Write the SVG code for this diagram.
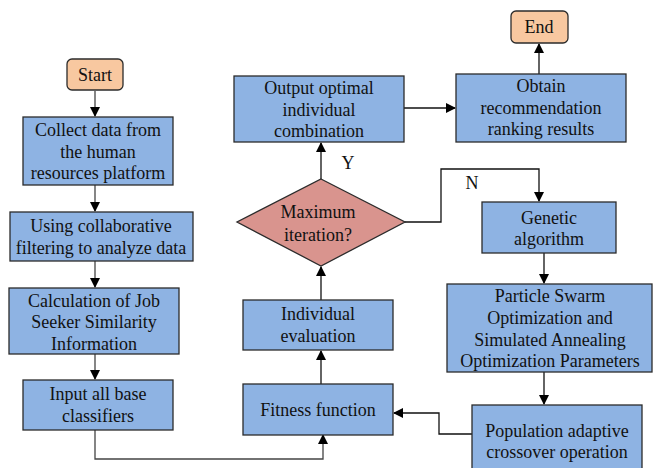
<svg xmlns="http://www.w3.org/2000/svg" width="654" height="468" viewBox="0 0 654 468">
  <defs>
    <marker id="arrow" markerWidth="10" markerHeight="10" refX="9" refY="5" orient="auto" markerUnits="userSpaceOnUse">
      <path d="M0,0 L10,5 L0,10 z" fill="#000"/>
    </marker>
    <style>
      .box { fill: #8EB3E3; stroke: #2b2b2b; stroke-width: 1.3; }
      .term { fill: #F8C8A0; stroke: #2b2b2b; stroke-width: 1.3; }
      .dec { fill: #D9948E; stroke: #2b2b2b; stroke-width: 1.3; }
      .lbl { font-family: "Liberation Serif", "DejaVu Serif", serif; font-size: 18px; fill: #111; text-anchor: middle; }
      .conn path { fill: none; stroke: #111; stroke-width: 1.3; }
      .conn path.gray { stroke: #444; }
    </style>
  </defs>

  <!-- connectors -->
  <g id="connectors" class="conn">
    <path class="gray" d="M95,91 V116" marker-end="url(#arrow)"/>
    <path class="gray" d="M95,185 V211" marker-end="url(#arrow)"/>
    <path class="gray" d="M95,261 V287" marker-end="url(#arrow)"/>
    <path class="gray" d="M95,354 V379" marker-end="url(#arrow)"/>
    <path class="gray" d="M95,430 V459 H323 V435" marker-end="url(#arrow)"/>
    <path d="M321,384 V351" marker-end="url(#arrow)"/>
    <path d="M321,300 V267" marker-end="url(#arrow)"/>
    <path d="M321,179 V143" marker-end="url(#arrow)"/>
    <path d="M404,108 H455" marker-end="url(#arrow)"/>
    <path d="M539,74 V44" marker-end="url(#arrow)"/>
    <path d="M405,222 H441 V169 H539 V201" marker-end="url(#arrow)"/>
    <path d="M544,253 V283" marker-end="url(#arrow)"/>
    <path d="M544,372 V404" marker-end="url(#arrow)"/>
    <path d="M472,434 H439 V413 H394" marker-end="url(#arrow)"/>
  </g>
  <text class="lbl" x="348" y="169">Y</text>
  <text class="lbl" x="472" y="189">N</text>

  <g id="start">
    <rect class="term" x="67" y="59" width="56" height="31" rx="5"/>
    <text class="lbl" x="95" y="81">Start</text>
  </g>
  <g id="collect">
    <rect class="box" x="23" y="117" width="150" height="68"/>
    <text class="lbl" x="98" y="136">Collect data from</text>
    <text class="lbl" x="98" y="158">the human</text>
    <text class="lbl" x="98" y="179">resources platform</text>
  </g>
  <g id="filtering">
    <rect class="box" x="10" y="212" width="183" height="49"/>
    <text class="lbl" x="101" y="232">Using collaborative</text>
    <text class="lbl" x="101" y="254">filtering to analyze data</text>
  </g>
  <g id="similarity">
    <rect class="box" x="9" y="288" width="170" height="66"/>
    <text class="lbl" x="94" y="307">Calculation of Job</text>
    <text class="lbl" x="94" y="328">Seeker Similarity</text>
    <text class="lbl" x="94" y="350">Information</text>
  </g>
  <g id="classifiers">
    <rect class="box" x="23" y="380" width="150" height="50"/>
    <text class="lbl" x="98" y="400">Input all base</text>
    <text class="lbl" x="98" y="422">classifiers</text>
  </g>
  <g id="fitness">
    <rect class="box" x="243" y="384" width="150" height="51"/>
    <text class="lbl" x="318" y="416">Fitness function</text>
  </g>
  <g id="evaluation">
    <rect class="box" x="243" y="300" width="150" height="50"/>
    <text class="lbl" x="318" y="320">Individual</text>
    <text class="lbl" x="318" y="342">evaluation</text>
  </g>
  <g id="decision">
    <polygon class="dec" points="321,179 405,222 321,266 237,222"/>
    <text class="lbl" x="318" y="218">Maximum</text>
    <text class="lbl" x="318" y="241">iteration?</text>
  </g>
  <g id="output">
    <rect class="box" x="234" y="76" width="170" height="66"/>
    <text class="lbl" x="319" y="94">Output optimal</text>
    <text class="lbl" x="319" y="116">individual</text>
    <text class="lbl" x="319" y="137">combination</text>
  </g>
  <g id="ranking">
    <rect class="box" x="456" y="74" width="170" height="68"/>
    <text class="lbl" x="541" y="92">Obtain</text>
    <text class="lbl" x="541" y="114">recommendation</text>
    <text class="lbl" x="541" y="135">ranking results</text>
  </g>
  <g id="end">
    <rect class="term" x="511" y="11" width="57" height="32" rx="5"/>
    <text class="lbl" x="539" y="33">End</text>
  </g>
  <g id="genetic">
    <rect class="box" x="482" y="202" width="134" height="51"/>
    <text class="lbl" x="549" y="224">Genetic</text>
    <text class="lbl" x="549" y="245">algorithm</text>
  </g>
  <g id="pso">
    <rect class="box" x="447" y="284" width="205" height="88"/>
    <text class="lbl" x="550" y="302">Particle Swarm</text>
    <text class="lbl" x="550" y="324">Optimization and</text>
    <text class="lbl" x="550" y="346">Simulated Annealing</text>
    <text class="lbl" x="550" y="367">Optimization Parameters</text>
  </g>
  <g id="crossover">
    <rect class="box" x="472" y="405" width="170" height="70"/>
    <text class="lbl" x="557" y="437">Population adaptive</text>
    <text class="lbl" x="557" y="458">crossover operation</text>
  </g>
</svg>
